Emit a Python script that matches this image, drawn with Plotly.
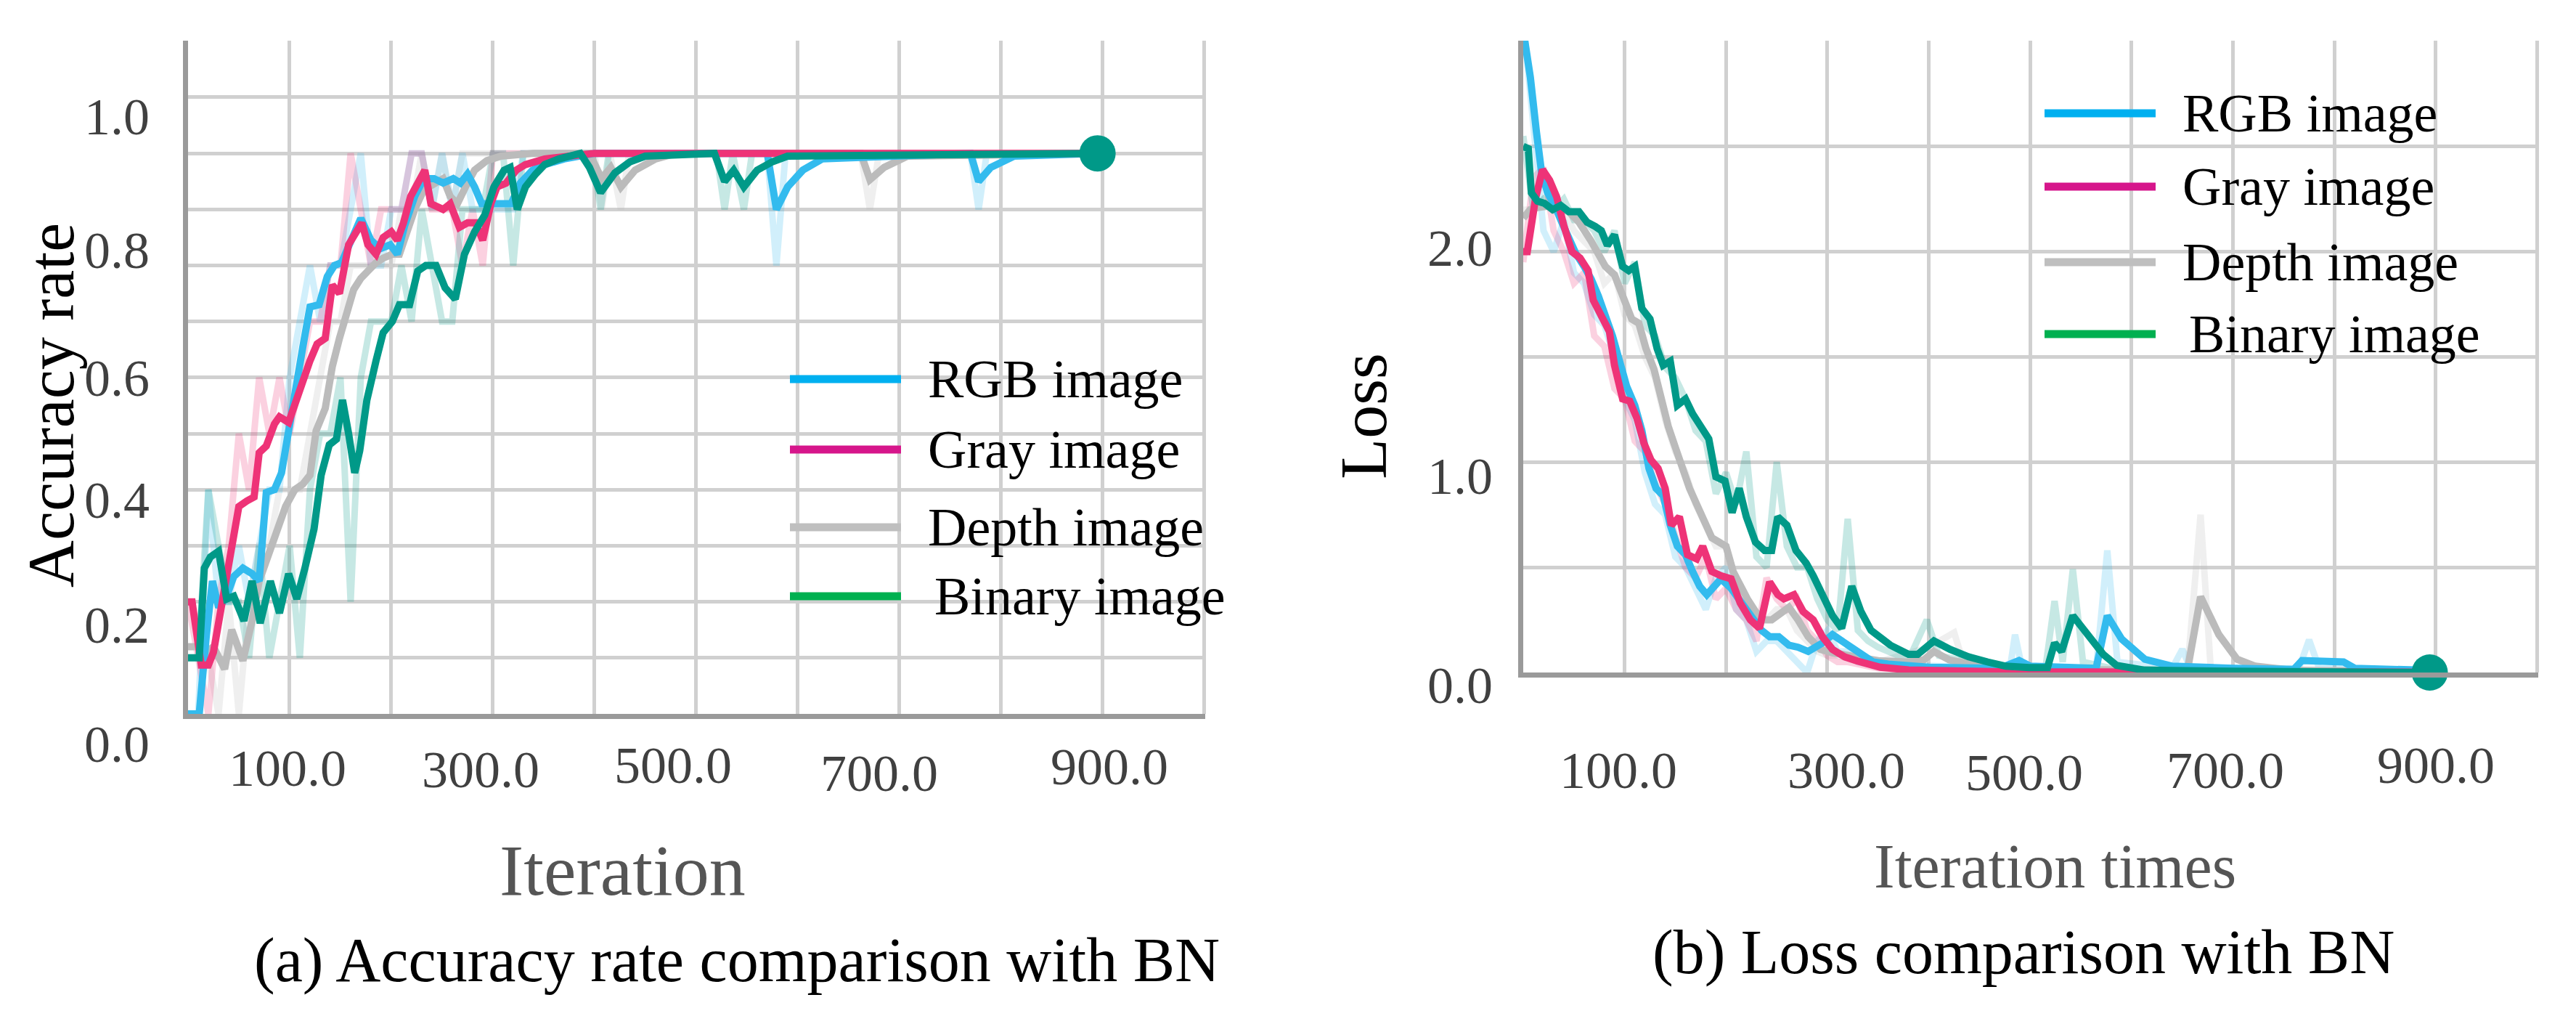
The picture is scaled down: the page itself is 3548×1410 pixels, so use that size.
import plotly.graph_objects as go

W, H = 3548, 1410


def px(x):
    return x / W


def py(y):
    return 1 - y / H


# ---------------- data ----------------
series_names = ["RGB image", "Gray image", "Depth image", "Binary image"]

# Accuracy (smoothed) -------------------------------------------------
acc_rgb_x = [0, 11, 18, 24, 30, 37, 45, 54, 63, 70, 77, 85, 92, 99, 106, 113, 120, 129, 137, 144,
             151, 161, 170, 180, 189, 199, 206, 213, 223, 232, 242, 251, 261, 268, 275, 282, 289, 299, 308, 318,
             327, 339, 351, 370, 400, 570, 579, 590, 605, 624, 770, 778, 790, 813, 895]
acc_rgb_y = [0.0, 0.0, 0.14, 0.237, 0.19, 0.205, 0.245, 0.26, 0.25, 0.237, 0.395, 0.40, 0.43, 0.51, 0.59, 0.655, 0.726, 0.73, 0.78, 0.80,
             0.805, 0.845, 0.884, 0.845, 0.83, 0.837, 0.82, 0.87, 0.923, 0.955, 0.955, 0.947, 0.955, 0.947, 0.963, 0.94, 0.91, 0.91, 0.91, 0.91,
             0.947, 0.97, 0.98, 0.99, 1.0, 1.0, 0.90, 0.94, 0.97, 0.99, 1.0, 0.95, 0.975, 0.995, 1.0]

acc_gray_x = [0, 4, 13, 20, 25, 33, 42, 50, 58, 65, 70, 77, 85, 90, 99, 106, 113, 120, 127, 135,
              142, 149, 158, 165, 171, 177, 185, 192, 200, 206, 212, 219, 226, 233, 239, 251, 258, 267, 275, 283,
              290, 298, 304, 313, 323, 332, 351, 380, 400, 895]
acc_gray_y = [0.20, 0.20, 0.087, 0.087, 0.11, 0.19, 0.276, 0.37, 0.38, 0.387, 0.466, 0.478, 0.517, 0.53, 0.52, 0.56, 0.60, 0.63, 0.66, 0.67,
              0.765, 0.75, 0.837, 0.86, 0.876, 0.837, 0.82, 0.85, 0.86, 0.845, 0.876, 0.923, 0.947, 0.97, 0.91, 0.90, 0.91, 0.868, 0.876, 0.876,
              0.845, 0.91, 0.94, 0.947, 0.97, 0.98, 0.99, 0.997, 1.0, 1.0]

acc_depth_x = [0, 8, 18, 25, 36, 43, 54, 63, 70, 80, 88, 96, 105, 113, 120, 126, 135, 142, 149, 156,
               163, 170, 177, 185, 192, 201, 208, 215, 223, 232, 242, 251, 258, 265, 273, 282, 294, 308, 340, 395,
               407, 416, 426, 440, 460, 480, 662, 671, 685, 708, 895]
acc_depth_y = [0.12, 0.12, 0.11, 0.12, 0.08, 0.15, 0.095, 0.166, 0.237, 0.29, 0.33, 0.37, 0.40, 0.41, 0.426, 0.505, 0.545, 0.62, 0.67, 0.72,
               0.757, 0.777, 0.79, 0.805, 0.813, 0.82, 0.82, 0.86, 0.90, 0.935, 0.947, 0.955, 0.923, 0.91, 0.94, 0.97, 0.987, 0.995, 1.0, 1.0,
               0.955, 0.975, 0.94, 0.97, 0.99, 1.0, 1.0, 0.953, 0.975, 0.995, 1.0]

acc_binary_x = [0, 11, 16, 22, 30, 38, 45, 55, 63, 71, 81, 90, 99, 107, 115, 124, 131, 139, 146, 152,
                158, 164, 169, 176, 185, 192, 201, 208, 218, 226, 234, 244, 253, 263, 272, 282, 292, 301, 311, 317,
                324, 332, 342, 351, 365, 378, 386, 395, 406, 420, 435, 450, 518, 528, 537, 547, 560, 575, 590, 895]
acc_binary_y = [0.10, 0.10, 0.26, 0.28, 0.29, 0.205, 0.21, 0.166, 0.237, 0.162, 0.237, 0.18, 0.25, 0.205, 0.26, 0.33, 0.426, 0.48, 0.49, 0.56,
                0.50, 0.43, 0.47, 0.56, 0.63, 0.68, 0.70, 0.73, 0.73, 0.79, 0.80, 0.80, 0.76, 0.74, 0.82, 0.86, 0.89, 0.94, 0.97, 0.975,
                0.90, 0.94, 0.963, 0.98, 0.99, 0.995, 1.0, 0.975, 0.93, 0.965, 0.985, 0.995, 1.0, 0.95, 0.97, 0.94, 0.97, 0.985, 0.995, 1.0]

# Accuracy (raw, faint) -------------------------------------------------
raw_steps = list(range(0, 360, 10))
acc_rgb_raw_y = [0.0, 0.0, 0.4, 0.2, 0.2, 0.3, 0.2, 0.3, 0.4, 0.4, 0.6, 0.7, 0.8, 0.7, 0.8, 0.8, 0.9, 1.0, 0.8, 0.8,
                 0.9, 0.9, 1.0, 1.0, 0.9, 1.0, 0.9, 1.0, 0.9, 0.9, 0.9, 0.9, 0.9, 1.0, 1.0, 1.0]
acc_rgb_raw_tail_x = [570, 579, 588, 770, 778, 786, 895]
acc_rgb_raw_tail_y = [1.0, 0.8, 1.0, 1.0, 0.9, 1.0, 1.0]

acc_gray_raw_y = [0.2, 0.1, 0.0, 0.2, 0.3, 0.5, 0.4, 0.6, 0.5, 0.6, 0.5, 0.6, 0.7, 0.7, 0.8, 0.8, 1.0, 0.9, 0.8, 0.9,
                  0.9, 0.9, 1.0, 1.0, 0.9, 0.9, 0.9, 0.8, 0.9, 0.8, 1.0, 1.0, 1.0, 1.0, 1.0, 1.0]
acc_gray_raw_tail_x = [895]
acc_gray_raw_tail_y = [1.0]

acc_depth_raw_y = [0.1, 0.1, 0.1, 0.0, 0.2, 0.0, 0.2, 0.3, 0.3, 0.4, 0.4, 0.4, 0.5, 0.6, 0.7, 0.7, 0.8, 0.8, 0.8, 0.8,
                   0.8, 0.9, 0.9, 1.0, 0.9, 1.0, 0.9, 1.0, 1.0, 1.0, 1.0, 1.0, 1.0, 1.0, 1.0, 1.0]
acc_depth_raw_tail_x = [400, 407, 415, 426, 434, 662, 671, 680, 895]
acc_depth_raw_tail_y = [1.0, 0.9, 1.0, 0.9, 1.0, 1.0, 0.9, 1.0, 1.0]

acc_binary_raw_y = [0.1, 0.1, 0.4, 0.3, 0.2, 0.2, 0.1, 0.3, 0.1, 0.2, 0.3, 0.1, 0.4, 0.5, 0.5, 0.6, 0.2, 0.6, 0.7, 0.7,
                    0.7, 0.8, 0.7, 0.9, 0.8, 0.7, 0.7, 0.9, 0.9, 0.9, 1.0, 1.0, 0.8, 1.0, 1.0, 1.0]
acc_binary_raw_tail_x = [398, 406, 414, 520, 528, 536, 547, 555, 895]
acc_binary_raw_tail_y = [1.0, 0.9, 1.0, 1.0, 0.9, 1.0, 0.9, 1.0, 1.0]

# Loss (smoothed) -------------------------------------------------------
loss_rgb_x = [0, 7, 13, 18, 24, 31, 38, 45, 52, 60, 67, 74, 81, 88, 95, 102, 110, 117, 124, 131,
              138, 145, 152, 160, 167, 174, 181, 188, 195, 205, 215, 225, 235, 243, 252, 262, 271, 281, 295, 305,
              318, 330, 345, 360, 380, 400, 470, 489, 500, 565, 576, 590, 613, 640, 700, 760, 768, 809, 820, 894]
loss_rgb_y = [3.05, 2.83, 2.57, 2.38, 2.28, 2.22, 2.14, 2.07, 1.99, 1.93, 1.87, 1.79, 1.70, 1.60, 1.48, 1.36, 1.27, 1.15, 0.97, 0.875,
              0.84, 0.70, 0.60, 0.56, 0.48, 0.41, 0.37, 0.41, 0.445, 0.40, 0.33, 0.27, 0.20, 0.17, 0.17, 0.13, 0.12, 0.10, 0.14, 0.18,
              0.14, 0.10, 0.05, 0.04, 0.03, 0.025, 0.02, 0.057, 0.03, 0.02, 0.27, 0.16, 0.063, 0.03, 0.02, 0.015, 0.057, 0.05, 0.02, 0.01]

loss_gray_x = [0, 4, 12, 19, 26, 33, 40, 48, 56, 64, 69, 77, 85, 90, 98, 105, 112, 119, 126, 133,
               140, 146, 154, 162, 171, 177, 186, 195, 205, 214, 224, 233, 243, 251, 257, 267, 276, 286, 295, 305,
               317, 329, 352, 380, 420, 480, 894]
loss_gray_y = [2.0, 2.0, 2.25, 2.39, 2.34, 2.26, 2.125, 2.0, 1.97, 1.91, 1.77, 1.70, 1.62, 1.46, 1.30, 1.29, 1.21, 1.09, 1.01, 0.97,
               0.875, 0.70, 0.74, 0.56, 0.54, 0.60, 0.48, 0.46, 0.445, 0.33, 0.25, 0.21, 0.43, 0.37, 0.35, 0.37, 0.29, 0.25, 0.17, 0.11,
               0.074, 0.055, 0.025, 0.012, 0.006, 0.003, 0.002]

loss_depth_x = [0, 7, 14, 30, 45, 55, 67, 81, 90, 100, 107, 114, 121, 129, 136, 143, 150, 157, 164, 171,
                179, 186, 193, 200, 207, 214, 221, 229, 236, 245, 255, 262, 271, 281, 293, 305, 329, 352, 380, 395,
                405, 420, 450, 500, 655, 668, 686, 704, 722, 760, 894]
loss_depth_y = [2.16, 2.20, 2.21, 2.22, 2.19, 2.14, 2.05, 1.93, 1.89, 1.77, 1.68, 1.66, 1.54, 1.44, 1.30, 1.17, 1.07, 0.97, 0.875, 0.80,
                0.72, 0.64, 0.62, 0.60, 0.48, 0.41, 0.35, 0.29, 0.25, 0.25, 0.29, 0.31, 0.25, 0.17, 0.11, 0.094, 0.074, 0.055, 0.05, 0.06,
                0.10, 0.06, 0.03, 0.015, 0.01, 0.36, 0.18, 0.063, 0.03, 0.01, 0.005]

loss_binary_x = [0, 5, 8, 14, 21, 29, 37, 45, 55, 63, 71, 77, 83, 90, 98, 104, 110, 117, 125, 132,
                 138, 145, 152, 160, 167, 174, 183, 190, 199, 206, 213, 220, 229, 238, 245, 251, 260, 269, 279, 286,
                 295, 305, 314, 324, 333, 343, 362, 380, 389, 405, 421, 439, 458, 476, 499, 517, 524, 531, 542, 556,
                 572, 585, 613, 700, 894]
loss_binary_y = [2.5, 2.49, 2.28, 2.24, 2.23, 2.20, 2.22, 2.19, 2.19, 2.14, 2.12, 2.10, 2.03, 2.08, 1.93, 1.91, 1.93, 1.73, 1.68, 1.54,
                 1.46, 1.48, 1.27, 1.30, 1.23, 1.17, 1.11, 0.93, 0.91, 0.76, 0.875, 0.74, 0.62, 0.58, 0.58, 0.74, 0.70, 0.58, 0.52, 0.46,
                 0.37, 0.27, 0.21, 0.41, 0.29, 0.20, 0.13, 0.086, 0.086, 0.15, 0.11, 0.075, 0.05, 0.03, 0.023, 0.023, 0.14, 0.10, 0.27, 0.18,
                 0.086, 0.034, 0.011, 0.006, 0.0]

# Loss (raw, faint) -----------------------------------------------------
loss_rgb_raw_y = [3.1, 2.6, 2.1, 2.0, 2.15, 1.9, 1.85, 1.7, 1.65, 1.5, 1.3, 1.2, 0.95, 0.8, 0.75, 0.55, 0.5, 0.4, 0.3, 0.45,
                  0.5, 0.3, 0.25, 0.1, 0.15, 0.15, 0.1, 0.05, 0.0, 0.15, 0.2, 0.1, 0.1, 0.05, 0.04, 0.04]
loss_rgb_raw_tail_x = [400, 480, 485, 492, 565, 576, 586, 640, 650, 658, 765, 775, 785, 894]
loss_rgb_raw_tail_y = [0.03, 0.02, 0.18, 0.02, 0.02, 0.58, 0.05, 0.02, 0.11, 0.02, 0.02, 0.155, 0.02, 0.01]

loss_gray_raw_y = [1.95, 2.35, 2.4, 2.1, 2.0, 1.85, 1.9, 1.6, 1.55, 1.35, 1.3, 1.1, 1.05, 0.9, 0.8, 0.65, 0.5, 0.45, 0.55, 0.35,
                   0.4, 0.3, 0.25, 0.15, 0.45, 0.35, 0.3, 0.35, 0.2, 0.15, 0.08, 0.05, 0.05, 0.04, 0.03, 0.02]
loss_gray_raw_tail_x = [400, 894]
loss_gray_raw_tail_y = [0.01, 0.0]

loss_depth_raw_y = [2.2, 2.2, 2.25, 2.2, 2.2, 2.1, 2.05, 2.0, 1.85, 1.9, 1.7, 1.65, 1.5, 1.4, 1.2, 1.05, 0.95, 0.8, 0.7, 0.6,
                    0.6, 0.4, 0.35, 0.25, 0.25, 0.3, 0.3, 0.2, 0.15, 0.1, 0.08, 0.08, 0.07, 0.06, 0.05, 0.05]
loss_depth_raw_tail_x = [400, 425, 435, 480, 655, 668, 678, 720, 894]
loss_depth_raw_tail_y = [0.12, 0.19, 0.03, 0.01, 0.01, 0.75, 0.02, 0.01, 0.0]

loss_binary_raw_y = [2.55, 2.2, 2.25, 2.2, 2.25, 2.15, 2.15, 2.1, 2.0, 2.1, 1.85, 1.95, 1.65, 1.6, 1.45, 1.4, 1.3, 1.15, 1.1, 0.85,
                     0.95, 0.8, 1.05, 0.55, 0.5, 1.0, 0.6, 0.5, 0.5, 0.35, 0.25, 0.2, 0.73, 0.2, 0.15, 0.12]
loss_binary_raw_tail_x = [380, 398, 410, 440, 480, 515, 524, 532, 542, 552, 580, 650, 894]
loss_binary_raw_tail_y = [0.06, 0.25, 0.08, 0.05, 0.02, 0.02, 0.34, 0.05, 0.49, 0.05, 0.02, 0.01, 0.0]

# tick labels
acc_ytick_text = ["0.0", "0.2", "0.4", "0.6", "0.8", "1.0"]
loss_ytick_text = ["0.0", "1.0", "2.0"]
xtick_text = ["100.0", "300.0", "500.0", "700.0", "900.0"]

# ---------------- styles / positions ----------------
line_colors = ["#33BBEE", "#EE3377", "#BBBBBB", "#009988"]
legend_colors = ["#00B0F0", "#D6168B", "#BFBFBF", "#00B050"]
FONT = "Liberation Serif, Times New Roman, serif"
TICK_COLOR = "#404040"
GRID = "#d0d0d0"
AXIS_LINE = "#9a9a9a"

acc_ytick_pix = [1017, 853, 681, 513, 337, 153]
acc_ytick_right = 200
loss_ytick_pix = [936, 648, 334]
loss_ytick_right = 2050
acc_xtick_pix = [(388, 1050), (654, 1052), (919, 1046), (1203, 1057), (1520, 1048)]
loss_xtick_pix = [(2221, 1053), (2535, 1053), (2780, 1056), (3057, 1053), (3347, 1046)]
acc_leg_y = [514, 611, 718, 813]
loss_leg_y = [148, 249, 353, 452]
leg_text_dx = [0, 0, 0, 9]

draw_order = [2, 0, 1, 3]

acc_smooth_x = [acc_rgb_x, acc_gray_x, acc_depth_x, acc_binary_x]
acc_smooth_y = [acc_rgb_y, acc_gray_y, acc_depth_y, acc_binary_y]
acc_raw_x = [raw_steps + acc_rgb_raw_tail_x, raw_steps + acc_gray_raw_tail_x,
             raw_steps + acc_depth_raw_tail_x, raw_steps + acc_binary_raw_tail_x]
acc_raw_y = [acc_rgb_raw_y + acc_rgb_raw_tail_y, acc_gray_raw_y + acc_gray_raw_tail_y,
             acc_depth_raw_y + acc_depth_raw_tail_y, acc_binary_raw_y + acc_binary_raw_tail_y]

loss_smooth_x = [loss_rgb_x, loss_gray_x, loss_depth_x, loss_binary_x]
loss_smooth_y = [loss_rgb_y, loss_gray_y, loss_depth_y, loss_binary_y]
loss_raw_x = [raw_steps + loss_rgb_raw_tail_x, raw_steps + loss_gray_raw_tail_x,
              raw_steps + loss_depth_raw_tail_x, raw_steps + loss_binary_raw_tail_x]
loss_raw_y = [loss_rgb_raw_y + loss_rgb_raw_tail_y, loss_gray_raw_y + loss_gray_raw_tail_y,
              loss_depth_raw_y + loss_depth_raw_tail_y, loss_binary_raw_y + loss_binary_raw_tail_y]

fig = go.Figure()


def add_panel(sx, sy, rx, ry, xa, ya):
    for i in draw_order:
        fig.add_trace(go.Scatter(x=rx[i], y=ry[i], mode="lines", xaxis=xa, yaxis=ya,
                                 line=dict(color=line_colors[i], width=9), opacity=0.22,
                                 showlegend=False, hoverinfo="skip"))
    for i in draw_order:
        fig.add_trace(go.Scatter(x=sx[i], y=sy[i], mode="lines", xaxis=xa, yaxis=ya,
                                 name=series_names[i],
                                 line=dict(color=line_colors[i], width=10), showlegend=False))
    last = 3
    fig.add_trace(go.Scatter(x=[sx[last][-1]], y=[sy[last][-1]], mode="markers", xaxis=xa, yaxis=ya,
                             marker=dict(color=line_colors[last], size=50), cliponaxis=False,
                             showlegend=False, hoverinfo="skip"))


add_panel(acc_smooth_x, acc_smooth_y, acc_raw_x, acc_raw_y, "x", "y")
add_panel(loss_smooth_x, loss_smooth_y, loss_raw_x, loss_raw_y, "x2", "y2")

axis_common = dict(showticklabels=False, ticks="", showgrid=True, gridcolor=GRID, gridwidth=5,
                   zeroline=False, showline=True, linecolor=AXIS_LINE, linewidth=7, fixedrange=True)

fig.update_layout(
    width=W, height=H, margin=dict(l=0, r=0, t=0, b=0),
    paper_bgcolor="white", plot_bgcolor="white", showlegend=False,
    xaxis=dict(domain=[px(251), px(1652)], range=[0, 1001], tickmode="linear", tick0=0, dtick=100,
               anchor="y", **axis_common),
    yaxis=dict(domain=[py(975), py(48)], range=[0, 1.201], tickmode="linear", tick0=0, dtick=0.1,
               anchor="x", **axis_common),
    xaxis2=dict(domain=[px(2090), px(3488)], range=[0, 1001], tickmode="linear", tick0=0, dtick=100,
                anchor="y2", **axis_common),
    yaxis2=dict(domain=[py(918), py(48)], range=[0, 3.003], tickmode="linear", tick0=0, dtick=0.5,
                anchor="x2", **axis_common),
)

ann = []


def text(t, x, y, size, color="black", xanchor="center", angle=0):
    ann.append(dict(text=t, x=px(x), y=py(y), xref="paper", yref="paper", showarrow=False,
                    xanchor=xanchor, yanchor="middle", textangle=angle,
                    font=dict(family=FONT, size=size, color=color)))


for t, yy in zip(acc_ytick_text, acc_ytick_pix):
    text(t, acc_ytick_right, yy, 72, TICK_COLOR, xanchor="right")
for t, yy in zip(loss_ytick_text, loss_ytick_pix):
    text(t, loss_ytick_right, yy, 72, TICK_COLOR, xanchor="right")
for t, (xx, yy) in zip(xtick_text, acc_xtick_pix):
    text(t, xx, yy, 72, TICK_COLOR)
for t, (xx, yy) in zip(xtick_text, loss_xtick_pix):
    text(t, xx, yy, 72, TICK_COLOR)

text("Accuracy rate", 62, 550, 90, "black", angle=-90)
text("Loss", 1870, 565, 92, "black", angle=-90)
text("Iteration", 849, 1190, 100, "#555555")
text("Iteration times", 2822, 1185, 86, "#555555")
text("(a) Accuracy rate comparison with BN", 1007, 1314, 86, "black")
text("(b) Loss comparison with BN", 2779, 1303, 86, "black")

shapes = []
for i, name in enumerate(series_names):
    for (x0, x1, xt, ys) in [(1080, 1233, 1268, acc_leg_y), (2808, 2961, 2996, loss_leg_y)]:
        shapes.append(dict(type="line", xref="paper", yref="paper",
                           x0=px(x0), x1=px(x1), y0=py(ys[i]), y1=py(ys[i]),
                           line=dict(color=legend_colors[i], width=11)))
        text(name, xt + leg_text_dx[i], ys[i], 74, "black", xanchor="left")

fig.update_layout(annotations=ann, shapes=shapes)

fig.write_html("out.html")
